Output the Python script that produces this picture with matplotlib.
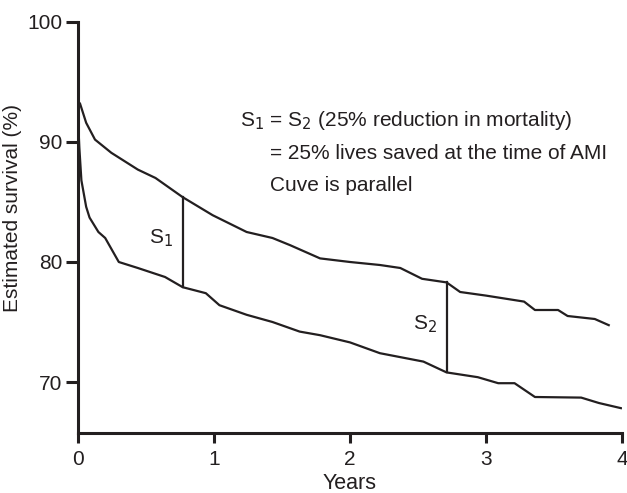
import numpy as np
import matplotlib
matplotlib.use("Agg")
import matplotlib.pyplot as plt

plt.rcParams["font.family"] = ["Liberation Sans", "DejaVu Sans"]

# survival curves (years, %)
upper_years = [0.0, 0.0, 0.015, 0.06, 0.125, 0.245, 0.44, 0.57, 0.77, 0.99,
               1.24, 1.43, 1.56, 1.78, 2.0, 2.22, 2.37, 2.53, 2.71, 2.81,
               3.0, 3.28, 3.36, 3.53, 3.6, 3.8, 3.91]
upper_surv = [100.0, 93.4, 93.2, 91.6, 90.2, 89.1, 87.7, 87.0, 85.4, 83.9,
              82.5, 82.0, 81.4, 80.3, 80.0, 79.75, 79.5, 78.6, 78.3, 77.5,
              77.2, 76.7, 76.0, 76.0, 75.5, 75.25, 74.7]
lower_years = [0.0, 0.0, 0.01, 0.025, 0.06, 0.085, 0.15, 0.2, 0.3, 0.44,
               0.64, 0.77, 0.94, 1.04, 1.24, 1.43, 1.63, 1.78, 2.0, 2.22,
               2.54, 2.71, 2.94, 3.09, 3.21, 3.36, 3.7, 3.83, 4.0]
lower_surv = [100.0, 92.0, 89.5, 86.8, 84.6, 83.7, 82.5, 82.0, 80.0, 79.5,
              78.75, 77.9, 77.4, 76.4, 75.6, 75.0, 74.2, 73.9, 73.3, 72.4,
              71.7, 70.8, 70.4, 69.9, 69.9, 68.75, 68.7, 68.25, 67.8]
s_years = [0.77, 2.71]
s_labels = ["S$_1$", "S$_2$"]

INK = "#231f20"

fig = plt.figure(figsize=(6.27, 4.93), dpi=100)
ax = fig.add_axes([0.1244, 0.1217, 0.8676, 0.8337])

ax.plot(upper_years, upper_surv, color=INK, lw=1.6, solid_capstyle="butt")
ax.plot(lower_years, lower_surv, color=INK, lw=1.6, solid_capstyle="butt")

for sx, lab in zip(s_years, s_labels):
    top = np.interp(sx, upper_years[2:], upper_surv[2:])
    bot = np.interp(sx, lower_years[3:], lower_surv[3:])
    ax.plot([sx, sx], [bot, top], color=INK, lw=1.6)
    ax.text(sx - 0.16, (top + bot) / 2 + 0.3, lab, fontsize=15,
            ha="center", va="center", color=INK)

ax.text(1.19, 91.8, "S$_1$ = S$_2$ (25% reduction in mortality)",
        fontsize=15, color=INK, va="center")
ax.text(1.41, 89.0, "= 25% lives saved at the time of AMI",
        fontsize=15, color=INK, va="center")
ax.text(1.41, 86.35, "Cuve is parallel",
        fontsize=15, color=INK, va="center")

ax.set_xlim(0, 4)
ax.set_ylim(65.75, 100)
ax.set_xticks([0, 1, 2, 3, 4])
ax.set_yticks([70, 80, 90, 100])
ax.spines["top"].set_visible(False)
ax.spines["right"].set_visible(False)
for s in ("left", "bottom"):
    ax.spines[s].set_linewidth(2.2)
    ax.spines[s].set_color(INK)
    ax.spines[s].set_capstyle("projecting")
ax.tick_params(axis="y", length=9, width=2.2, labelsize=15, pad=2, colors=INK)
ax.tick_params(axis="x", length=7, width=2.2, labelsize=15, pad=5, colors=INK)
ax.set_xlabel("Years", fontsize=15.5, color=INK, labelpad=3)
ax.set_ylabel("Estimated survival (%)", fontsize=15, color=INK)
ax.yaxis.set_label_coords(-0.103, 0.547)

fig.savefig("out.png", dpi=100)
